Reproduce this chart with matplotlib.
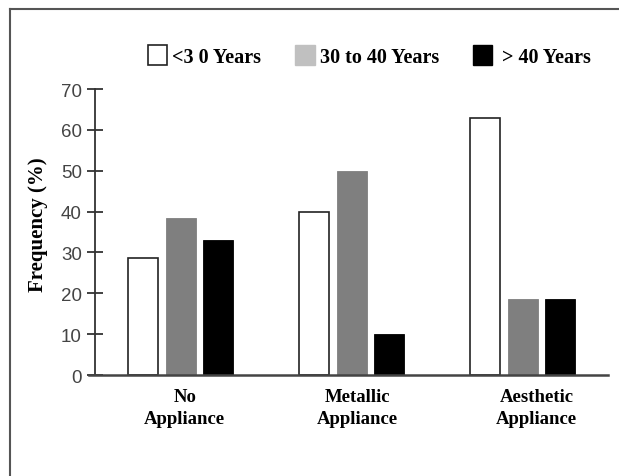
import numpy as np
import matplotlib.pyplot as plt
from matplotlib.patches import Patch
from matplotlib.lines import Line2D

# data
groups = ["No\nAppliance", "Metallic\nAppliance", "Aesthetic\nAppliance"]
series = ["<3 0 Years", "30 to 40 Years", " > 40 Years"]
under_30 = [28.6, 40.0, 63.0]
from_30_to_40 = [38.5, 50.0, 18.5]
over_40 = [33.0, 10.0, 18.5]

serif = ["Liberation Serif", "DejaVu Serif"]
narrow = ["Liberation Sans Narrow", "Liberation Sans", "DejaVu Sans"]

fig = plt.figure(figsize=(6.19, 4.77), dpi=100)
ax = fig.add_axes([0.1535, 0.2117, 0.829, 0.5996])

x = np.arange(len(groups))
step = 0.219
width = 0.175

ax.bar(x - step, under_30, width, color="white", edgecolor="#222222", linewidth=1.2)
ax.bar(x, from_30_to_40, width, color="#7f7f7f", edgecolor="#7f7f7f", linewidth=0.6)
ax.bar(x + step, over_40, width, color="black", edgecolor="black", linewidth=0.6)

ax.set_xlim(-0.5, 2.5)
ax.set_ylim(0, 70)
ax.set_yticks(np.arange(0, 71, 10))
# the category labels sit a little right of the group centres in the original
ax.set_xticks(x + np.array([0.025, 0.035, 0.08]))
ax.set_xticklabels(groups, family=serif, fontweight="bold", fontsize=13.5,
                   linespacing=1.45)
ax.tick_params(axis="x", length=0, pad=9)
ax.tick_params(axis="y", direction="inout", length=11, width=1.3,
               color="#333333", labelsize=13.5, labelcolor="#444444", pad=4)
for lab in ax.get_yticklabels():
    lab.set_family(narrow)

for s in ["top", "right"]:
    ax.spines[s].set_visible(False)
ax.spines["left"].set_linewidth(1.3)
ax.spines["left"].set_color("#333333")
ax.spines["bottom"].set_linewidth(1.8)
ax.spines["bottom"].set_color("#444444")
ax.spines["bottom"].set_bounds(-0.535, 2.5)

ax.set_ylabel("Frequency (%)", family=serif, fontweight="bold", fontsize=15)
ax.yaxis.set_label_coords(-0.092, 0.528)

handles = [
    Patch(facecolor="white", edgecolor="#222222", linewidth=1.2),
    Patch(facecolor="#c0c0c0", edgecolor="#c0c0c0"),
    Patch(facecolor="black", edgecolor="black"),
]
fig.legend(handles, series, loc="center", bbox_to_anchor=(0.597, 0.88), ncol=3,
           frameon=False, prop={"family": serif, "weight": "bold", "size": 14.5},
           handlelength=0.95, handleheight=1.1, handletextpad=0.25,
           columnspacing=1.7)

# outer frame of the original figure
fig.add_artist(Line2D([0.016, 0.016], [0, 0.979], color="#555555", linewidth=1.5))
fig.add_artist(Line2D([0.016, 1.0], [0.979, 0.979], color="#555555", linewidth=1.5))

fig.savefig("out.png", dpi=100)
